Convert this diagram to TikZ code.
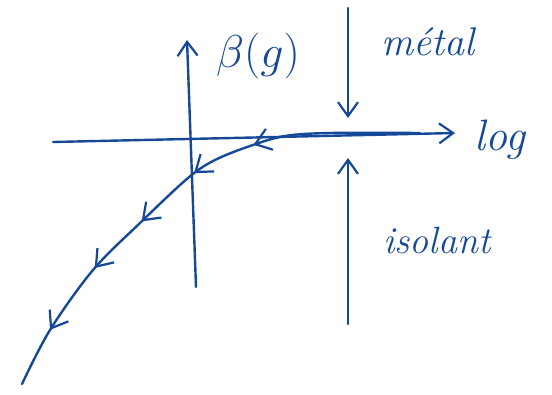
\documentclass[tikz,border=0pt]{standalone}
\usepackage{fix-cm}
\usetikzlibrary{arrows.meta,decorations.markings}
\definecolor{ink}{RGB}{22,72,152}
\begin{document}
\begin{tikzpicture}[x=1pt,y=-1pt,
  ink line/.style={draw=ink,line width=2.4pt,line cap=round},
  barb/.style={-{Straight Barb[length=14pt,width=20pt,line width=2.2pt]}},
  lbl/.style={text=ink,font=\fontsize{40}{44}\selectfont\itshape,inner sep=0pt},
  flowarrows/.style={decoration={markings,
    mark=at position 0.33 with {\arrow{Straight Barb[length=15pt,width=22pt,line width=2.2pt]}},
    mark=at position 0.46 with {\arrow{Straight Barb[length=15pt,width=22pt,line width=2.2pt]}},
    mark=at position 0.60 with {\arrow{Straight Barb[length=15pt,width=22pt,line width=2.2pt]}},
    mark=at position 0.73 with {\arrow{Straight Barb[length=15pt,width=22pt,line width=2.2pt]}},
    mark=at position 0.88 with {\arrow{Straight Barb[length=15pt,width=22pt,line width=2.2pt]}}},
    postaction=decorate}]
\useasboundingbox (0,0) rectangle (552,394);
% axes
\coordinate (hl) at (53,142);
\coordinate (hr) at (455,133);
\coordinate (vb) at (196,287);
\coordinate (vt) at (187,40);
\draw[ink line,barb] (hl) -- (hr);
\draw[ink line,barb] (vb) -- (vt);
% metal / isolant arrows
\coordinate (mt) at (348,8);
\coordinate (mb) at (348,118);
\coordinate (ib) at (348,324);
\coordinate (it) at (348,158);
\draw[ink line,barb] (mt) -- (mb);
\draw[ink line,barb] (ib) -- (it);
% labels
\node[lbl,font=\fontsize{46}{50}\selectfont] (beta) at (258,56) {$\beta(g)$};
\node[lbl] (metal) at (428,42) {métal};
\node[lbl,font=\fontsize{44}{48}\selectfont\itshape] (logg) at (500,140) {log};
\node[lbl,font=\fontsize{38}{42}\selectfont\itshape] (isolant) at (437,240) {isolant};
% flow curve
\draw[ink line,flowarrows] plot[smooth,tension=0.55] coordinates
  {(420,133) (330,133) (285,136) (250,146) (215,160) (188,178) (140,223) (93,270) (50,330) (22,384)};
\end{tikzpicture}
\end{document}
